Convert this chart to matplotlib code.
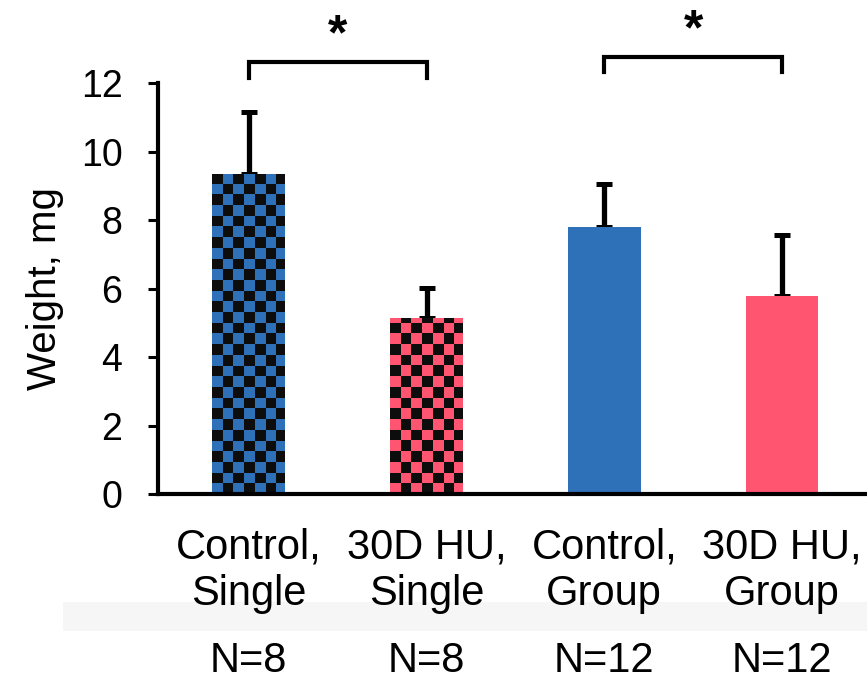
import matplotlib
matplotlib.use("Agg")
import matplotlib.pyplot as plt
import numpy as np
from matplotlib.patches import Rectangle
from matplotlib.transforms import blended_transform_factory

plt.rcParams['font.family'] = ['Liberation Sans', 'DejaVu Sans']

labels = ["Control,\nSingle", "30D HU,\nSingle", "Control,\nGroup", "30D HU,\nGroup"]
means = [9.34, 5.13, 7.79, 5.77]
errors = [1.81, 0.88, 1.26, 1.79]
counts = ["N=8", "N=8", "N=12", "N=12"]
checkered = [True, True, False, False]
colors = ["#2F71B8", "#FF5570", "#2F71B8", "#FF5570"]
pairs = [(0, 1), (2, 3)]
bracket_y = [12.61, 12.76]

fig = plt.figure(figsize=(8.67, 6.81), dpi=100)
ax = fig.add_axes([0.182, 0.2746, 0.818, 0.6035])

x = np.arange(len(means))
width = 0.41
bars = ax.bar(x, means, width=width, color=colors, zorder=2)

# checkerboard fill for the "Single" bars
cell_w, cell_h = 0.0602, 0.3124
for b, chk, col in zip(bars, checkered, colors):
    if not chk:
        continue
    x0, h = b.get_x(), b.get_height()
    nx = int(np.ceil(width / cell_w)) + 1
    ny = int(np.ceil(h / cell_h)) + 1
    grid = (np.add.outer(np.arange(ny), np.arange(nx)) % 2).astype(float)
    cmap = matplotlib.colors.ListedColormap([col, "#0d0d0d"])
    im = ax.imshow(grid, cmap=cmap, origin="lower", aspect="auto",
                   extent=(x0, x0 + nx * cell_w, 0, ny * cell_h),
                   interpolation="nearest", zorder=2.5)
    im.set_clip_path(b)

ax.errorbar(x, means, yerr=[np.zeros(len(errors)), errors], fmt="none",
            ecolor="black", elinewidth=3.8, capsize=6, capthick=3.6, zorder=1)

ax.set_xlim(-0.512, 3.478)
ax.set_ylim(0, 12)
ax.set_yticks(range(0, 13, 2))
ax.set_xticks(x)
ax.set_xticklabels(labels, fontsize=30, linespacing=1.2)
ax.tick_params(axis="x", length=0, pad=24)
ax.tick_params(axis="y", length=7.5, width=2.2, pad=18, labelsize=27)
for s in ["top", "right"]:
    ax.spines[s].set_visible(False)
for s in ["left", "bottom"]:
    ax.spines[s].set_linewidth(3)
ax.set_ylabel("Weight, mg", fontsize=29, va="center")
ax.yaxis.set_label_coords(-0.159, 0.5)

# significance brackets
for (i, j), yb in zip(pairs, bracket_y):
    ax.plot([x[i], x[i], x[j], x[j]], [yb - 0.45, yb, yb, yb - 0.45],
            color="black", lw=3, clip_on=False, solid_joinstyle="miter")
    ax.text((x[i] + x[j]) / 2, yb + 0.75, "*", ha="center", va="center",
            fontsize=36, fontweight="bold", clip_on=False)

# light band behind second label line
fig.patches.append(Rectangle((0.073, 1 - 631 / 681), 0.927, 29 / 681,
                             transform=fig.transFigure, facecolor="#f6f6f6",
                             edgecolor="none", zorder=-1))

trans = blended_transform_factory(ax.transData, fig.transFigure)
for xi, n in zip(x, counts):
    ax.text(xi, 0.03, n, transform=trans, ha="center", va="center", fontsize=30)

fig.savefig("out.png", dpi=100)
